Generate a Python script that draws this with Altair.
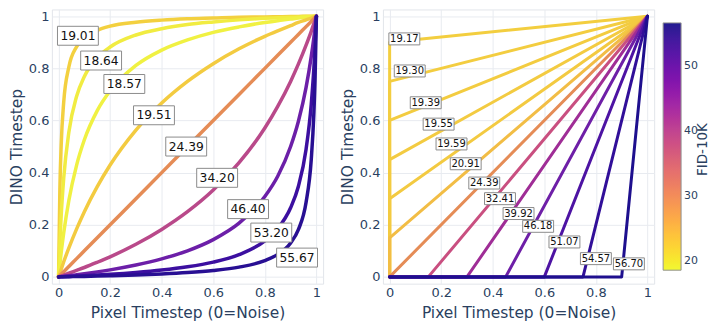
import altair as alt
import pandas as pd
import numpy as np

# ---------------- data ----------------
x_grid = [0, 0.005, 0.01, 0.02, 0.04, 0.07, 0.1, 0.15, 0.2, 0.3, 0.4, 0.5,
          0.6, 0.7, 0.8, 0.85, 0.9, 0.93, 0.96, 0.98, 0.99, 0.995, 1]

left_fid = [19.01, 18.64, 18.57, 19.51, 24.39, 34.20, 46.40, 53.20, 55.67]

c_19_01 = [0, 0.334, 0.503, 0.671, 0.806, 0.883, 0.917, 0.946, 0.962, 0.977, 0.985, 0.990,
           0.993, 0.996, 0.997, 0.998, 0.999, 0.999, 1.0, 1.0, 1.0, 1.0, 1]
c_18_64 = [0, 0.131, 0.233, 0.380, 0.556, 0.693, 0.769, 0.841, 0.882, 0.928, 0.952, 0.968,
           0.978, 0.986, 0.992, 0.994, 0.996, 0.997, 0.999, 0.999, 1.0, 1.0, 1]
c_18_57 = [0, 0.048, 0.092, 0.169, 0.294, 0.429, 0.526, 0.638, 0.714, 0.811, 0.870, 0.909,
           0.938, 0.959, 0.976, 0.983, 0.989, 0.993, 0.996, 0.998, 0.999, 0.9995, 1]
c_19_51 = [0, 0.015, 0.029, 0.058, 0.111, 0.184, 0.25, 0.346, 0.429, 0.563, 0.667, 0.75,
           0.818, 0.875, 0.923, 0.944, 0.964, 0.976, 0.986, 0.993, 0.997, 0.998, 1]
c_24_39 = [0, 0.005, 0.01, 0.02, 0.04, 0.07, 0.1, 0.15, 0.2, 0.3, 0.4, 0.5,
           0.6, 0.7, 0.8, 0.85, 0.9, 0.93, 0.96, 0.98, 0.99, 0.995, 1]
c_34_20 = [0, 0.002, 0.003, 0.007, 0.014, 0.025, 0.036, 0.056, 0.077, 0.125, 0.182, 0.25,
           0.333, 0.438, 0.571, 0.654, 0.75, 0.816, 0.889, 0.942, 0.971, 0.985, 1]
c_46_40 = [0, 0.0006, 0.0011, 0.0023, 0.0046, 0.0083, 0.0122, 0.0192, 0.027, 0.0455, 0.069, 0.1,
           0.143, 0.206, 0.308, 0.386, 0.5, 0.596, 0.727, 0.845, 0.917, 0.957, 1]
c_53_20 = [0, 0.0002, 0.0004, 0.0008, 0.0017, 0.003, 0.0044, 0.007, 0.0099, 0.0169, 0.026, 0.0385,
           0.0566, 0.0854, 0.138, 0.185, 0.265, 0.347, 0.490, 0.662, 0.798, 0.888, 1]
c_55_67 = [0, 0.0001, 0.0002, 0.0003, 0.0007, 0.0013, 0.0018, 0.0029, 0.0041, 0.0071, 0.011, 0.0164,
           0.0244, 0.0374, 0.0625, 0.0863, 0.130, 0.181, 0.286, 0.450, 0.623, 0.768, 1]
left_curves = [c_19_01, c_18_64, c_18_57, c_19_51, c_24_39, c_34_20, c_46_40, c_53_20, c_55_67]

left_label_x = [0.075, 0.165, 0.255, 0.37, 0.495, 0.615, 0.735, 0.825, 0.925]
left_label_y = [0.925, 0.83, 0.74, 0.62, 0.5, 0.38, 0.26, 0.17, 0.074]

right_fid = [19.17, 19.30, 19.39, 19.55, 19.59, 20.91, 24.39, 32.41, 39.92, 46.18, 51.07, 54.57, 56.70]
right_knee_x = [0, 0, 0, 0, 0, 0, 0, 0.15, 0.30, 0.45, 0.60, 0.75, 0.90]
right_knee_y = [0.90, 0.75, 0.60, 0.45, 0.30, 0.15, 0, 0, 0, 0, 0, 0, 0]
right_label_x = [0.057, 0.078, 0.14, 0.19, 0.24, 0.295, 0.367, 0.428, 0.50, 0.576, 0.678, 0.80, 0.928]
right_label_y = [0.913, 0.79, 0.668, 0.586, 0.51, 0.434, 0.36, 0.30, 0.243, 0.194, 0.134, 0.07, 0.05]

colorbar_ticks = [20, 30, 40, 50]
colorbar_title = "FID-10K"

# ---------------- tables ----------------
left_rows = []
for k, (f, ys) in enumerate(zip(left_fid, left_curves)):
    for i, (xv, yv) in enumerate(zip(x_grid, ys)):
        left_rows.append({"curve": k, "i": i, "x": xv, "y": yv, "fid": f})
left_df = pd.DataFrame(left_rows)

left_lab = pd.DataFrame({"lx": left_label_x, "ly": left_label_y,
                         "txt": [f"{v:.2f}" for v in left_fid]})

right_rows = []
for k, f in enumerate(right_fid):
    pts = [(0, 0), (right_knee_x[k], right_knee_y[k]), (1, 1)]
    for i, (xv, yv) in enumerate(pts):
        right_rows.append({"curve": k, "i": i, "x": xv, "y": yv, "fid": f})
right_df = pd.DataFrame(right_rows)

right_lab = pd.DataFrame({"lx": right_label_x, "ly": right_label_y,
                          "txt": [f"{v:.2f}" for v in right_fid]})

# ---------------- styling ----------------
FONT = "DejaVu Sans"
TXT = "#2a3f5f"
ticks = [0, 0.2, 0.4, 0.6, 0.8, 1]
dom = [-0.026, 1.026]
W = 272
H = 275

# line colours as seen in the picture
line_scale = alt.Scale(
    domain=[18.57, 19.01, 20.91, 24.39, 34.20, 46.40, 53.20, 56.70],
    range=["#f0f142", "#f3d03f", "#f2bd45", "#e58c56", "#b9498a", "#6c1fa8", "#3c0fa0", "#1e0f8e"],
)
# colour bar: Plasma reversed
plasma_r = ["#f0f921", "#fdca26", "#fb9f3a", "#ed7953", "#d8576b",
            "#bd3786", "#9c179e", "#7201a8", "#46039f", "#0d0887"]
cb_domain = [float(v) for v in np.linspace(18.57, 56.70, len(plasma_r))]
bar_scale = alt.Scale(domain=cb_domain, range=plasma_r)

legend = alt.Legend(title=None, orient="none", legendX=613, legendY=13.5,
                    gradientLength=248, gradientThickness=18, values=colorbar_ticks,
                    gradientStrokeColor="#8a8a8a", gradientStrokeWidth=1, gradientOpacity=0.92,
                    labelFont=FONT, labelFontSize=11, labelColor=TXT, labelOffset=3)


def xenc():
    return alt.X("x:Q", scale=alt.Scale(domain=dom, nice=False, zero=False),
                 axis=alt.Axis(values=ticks, format="~g", title="Pixel Timestep (0=Noise)",
                               titlePadding=6))


def yenc():
    return alt.Y("y:Q", scale=alt.Scale(domain=dom, nice=False, zero=False),
                 axis=alt.Axis(values=ticks, format="~g", title="DINO Timestep",
                               titlePadding=4))


def panel(df, lab, sw, interp, bw, bh, fs, with_bar):
    lines = alt.Chart(df).mark_line(strokeWidth=sw, strokeCap="round", strokeJoin="round",
                                    interpolate=interp).encode(
        x=xenc(), y=yenc(),
        stroke=alt.Stroke("fid:Q", scale=line_scale, legend=None),
        detail="curve:N",
        order="i:Q",
    )
    boxes = alt.Chart(lab).mark_rect(fill="white", stroke="#8c8c8c", strokeWidth=1,
                                     xOffset=-bw / 2, x2Offset=bw / 2,
                                     yOffset=-bh / 2, y2Offset=bh / 2).encode(
        x="lx:Q", x2="lx:Q", y="ly:Q", y2="ly:Q")
    texts = alt.Chart(lab).mark_text(font=FONT, fontSize=fs, color="#111111",
                                     align="center", baseline="middle").encode(
        x="lx:Q", y="ly:Q", text="txt:N")
    layers = [lines, boxes, texts]
    if with_bar:
        bar = alt.Chart(df).mark_point(opacity=0, size=1, filled=True).encode(
            x="x:Q", y="y:Q",
            fill=alt.Fill("fid:Q", scale=bar_scale, legend=legend))
        title = alt.Chart(pd.DataFrame({"t": [colorbar_title]})).mark_text(
            angle=270, font=FONT, fontSize=13.5, color=TXT, align="center",
            baseline="middle").encode(
            x=alt.value(W + 49), y=alt.value(H / 2 + 3), text="t:N")
        layers += [bar, title]
    return alt.layer(*layers).properties(width=W, height=H)


left = panel(left_df, left_lab, 3.5, "monotone", 41, 19, 12.3, False)
right = panel(right_df, right_lab, 3.0, "linear", 31, 12, 10, True)

chart = alt.hconcat(left, right, spacing=15).properties(
    padding=0
).configure_view(
    stroke="#e2e5ea", strokeWidth=1
).configure_axis(
    grid=True, gridColor="#e8ebf0", gridWidth=1, domain=False, ticks=False,
    labelFont=FONT, labelFontSize=13, labelColor=TXT, labelPadding=3, labelFlush=False,
    titleFont=FONT, titleFontSize=15.5, titleColor=TXT, titleFontWeight="normal",
)

chart.save("out.html", embed_options={"renderer": "svg", "actions": False})
